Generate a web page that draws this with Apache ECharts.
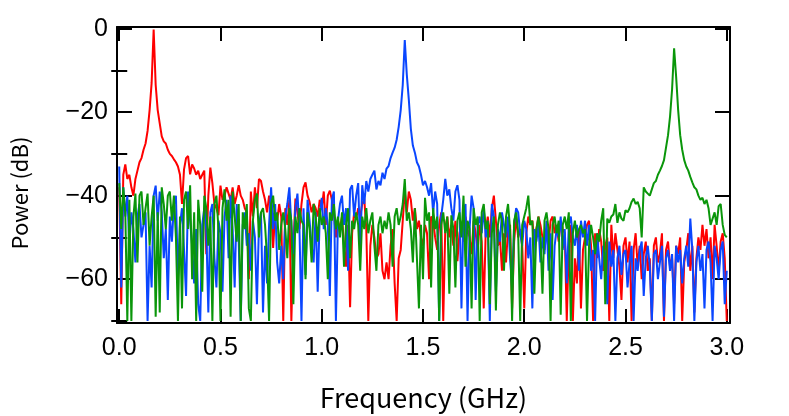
<!DOCTYPE html>
<html>
<head>
<meta charset="utf-8">
<script src="https://cdn.jsdelivr.net/npm/echarts@6/dist/echarts.min.js"></script>
<style>
html,body{margin:0;padding:0;background:#fff;}
#chart{width:789px;height:416px;}
</style>
</head>
<body>
<div id="chart"></div>
<script>
// Frequency grid (MHz)
const freqMHz = [
0,10,20,30,40,50,60,70,80,90,100,110,120,130,140,150,160,170,180,190,
200,210,220,230,240,250,260,270,280,290,300,310,320,330,340,350,360,370,380,390,
400,410,420,430,440,450,460,470,480,490,500,510,520,530,540,550,560,570,580,590,
600,610,620,630,640,650,660,670,680,690,700,710,720,730,740,750,760,770,780,790,
800,810,820,830,840,850,860,870,880,890,900,910,920,930,940,950,960,970,980,990,
1000,1010,1020,1030,1040,1050,1060,1070,1080,1090,1100,1110,1120,1130,1140,1150,1160,1170,1180,1190,
1200,1210,1220,1230,1240,1250,1260,1270,1280,1290,1300,1310,1320,1330,1340,1350,1360,1370,1380,1390,
1400,1410,1420,1430,1440,1450,1460,1470,1480,1490,1500,1510,1520,1530,1540,1550,1560,1570,1580,1590,
1600,1610,1620,1630,1640,1650,1660,1670,1680,1690,1700,1710,1720,1730,1740,1750,1760,1770,1780,1790,
1800,1810,1820,1830,1840,1850,1860,1870,1880,1890,1900,1910,1920,1930,1940,1950,1960,1970,1980,1990,
2000,2010,2020,2030,2040,2050,2060,2070,2080,2090,2100,2110,2120,2130,2140,2150,2160,2170,2180,2190,
2200,2210,2220,2230,2240,2250,2260,2270,2280,2290,2300,2310,2320,2330,2340,2350,2360,2370,2380,2390,
2400,2410,2420,2430,2440,2450,2460,2470,2480,2490,2500,2510,2520,2530,2540,2550,2560,2570,2580,2590,
2600,2610,2620,2630,2640,2650,2660,2670,2680,2690,2700,2710,2720,2730,2740,2750,2760,2770,2780,2790,
2800,2810,2820,2830,2840,2850,2860,2870,2880,2890,2900,2910,2920,2930,2940,2950,2960,2970,2980,2990,
3000];

// Power (dB) — red trace (peak near 0.17 GHz)
const redDB = [
-38,-66,-35,-32.5,-36,-35,-38,-40,-36,-34,
-32,-31,-29,-27.5,-24.5,-19.5,-13,-0.2,-13.5,-19.5,
-22.7,-25.8,-27,-27.5,-29,-30,-30.5,-31.3,-32,-33,
-35,-42,-33.7,-31,-30.5,-34.9,-32.5,-33.5,-35,-34,
-36,-35,-34,-54,-40,-33.3,-37,-42,-43,-44.7,
-37.6,-41,-40,-38,-39.5,-41,-38,-42,-40,-37.5,
-40,-41,-43,-44,-60,-39,-45,-38,-43,-36,
-36.5,-39,-41,-44,-40,-43,-52.5,-44,-46,-42,
-45,-70,-43,-47,-41,-70,-52,-40.7,-44,-48,
-42,-38,-36.8,-40,-41.5,-44,-42,-43,-45,-41,
-43,-39,-47,-40,-38.8,-41,-44,-50,-46,-48,
-45,-52,-57,-47,-66.7,-49,-44,-45.5,-43,-45,
-42,-40.7,-48,-70,-52,-47,-50,-55,-54,-49,
-58,-60,-56,-60,-52,-48,-61,-70,-55,-53,
-46,-39,-44,-39,-41,-46,-43,-48,-46,-50,
-52,-47,-49,-60,-45,-46,-50,-53,-47,-44,
-70,-48,-45,-50,-47,-52,-46,-55.7,-49,-47,
-51,-45,-48,-50,-54,-46,-49,-53,-47,-51,
-67,-48,-45,-50,-43,-40,-46,-52,-50,-58,
-49,-56,-48,-47,-67,-51,-45,-50,-48,-52,
-67,-49,-45,-47,-46,-51,-48,-45,-47,-50,
-53,-48,-52,-46,-45,-49,-47,-51,-46,-48,
-49,-70,-52,-47,-70,-55,-61,-48,-67,-53,
-50,-47,-46,-52,-70,-49,-55,-48,-51,-58,
-52,-50,-70,-47,-55,-49,-53,-57,-65,-52,
-50,-56,-51,-70,-53,-49,-57,-52,-60,-54,
-51,-58,-55,-70,-52,-50,-56,-54,-49,-70,
-53,-51,-57,-55,-66,-52,-54,-50,-70,-56,
-53,-49,-58,-52,-68,-55,-50,-53,-47,-52,
-48,-55,-50,-60,-47,-52,-58,-51,-49,-55,
-70];

// Power (dB) — blue trace (peak near 1.41 GHz)
const blueDB = [
-33,-62,-38,-45,-40,-52,-44,-48,-56,-45,
-42,-50,-47,-44,-70,-52,-62,-40,-37.6,-46,
-39,-44,-55,-48,-65,-45,-51,-42,-40,-60,
-47,-43,-53,-64,-39,-46,-52,-61,-48,-66,
-70,-47,-43,-48,-68,-44,-42,-55,-62,-46,
-49,-63,-45,-41,-55,-40,-48,-62,-42,-51,
-70,-47,-44,-52,-49,-58,-46,-50,-66,-47,
-44,-68,-52,-61,-47,-38,-48,-42,-56,-61,
-52,-60,-45,-42,-38,-47,-54,-43,-39.5,-48,
-70,-43,-59,-41,-46,-52,-56,-44,-63,-45,
-40.5,-48,-43,-47,-64,-41,-39,-70,-46,-42,
-40,-47,-43,-58,-38.5,-37.5,-45,-40,-37,-53,
-37.5,-42,-36.5,-39,-36,-35,-34,-38.5,-36.5,-37.5,
-34.5,-36,-33.5,-32.9,-31,-29.7,-28.5,-26.6,-23.5,-19.5,
-13.5,-2.7,-11,-17,-24,-28,-29.7,-32,-33,-35,
-37.5,-36.5,-38,-40,-37,-44,-39,-42,-70,-45,
-41,-36,-40,-38.5,-43,-46,-39,-37.5,-41,-67,
-44,-42,-70,-48,-40,-43,-65,-47,-45,-49,
-43,-50,-46,-70,-42,-45,-63,-48,-51,-44,
-47,-50,-45,-55,-62,-47,-43,-44,-49,-52,
-46,-48,-55,-50,-67,-48,-51,-47,-56,-50,
-54,-46,-58,-49,-65,-52,-48,-50,-45,-53,
-48,-61,-47,-45,-50,-52,-47,-58,-46,-50,
-46,-52,-47,-58,-53,-70,-49,-55,-60,-52,
-54,-66,-51,-57,-53,-70,-55,-52,-59,-54,
-53,-62,-56,-52,-70,-55,-58,-53,-51,-64,
-55,-52,-57,-70,-54,-53,-60,-56,-52,-69,
-55,-53,-58,-54,-70,-52,-56,-53,-61,-55,
-52,-57,-45.5,-53,-70,-56,-52,-58,-54,-67,
-53,-51,-56,-70,-52,-55,-60,-53,-51,-66,
-58];

// Power (dB) — green trace (peak near 2.74 GHz)
const greenDB = [
-37,-48,-38,-44,-70,-41,-70,-45,-39.5,-56,
-40,-39,-47,-43,-39.5,-52,-45,-40,-69,-44,
-68,-38,-42,-48,-40,-39,-46,-40,-50,-70,
-45,-67,-41,-39,-48,-37.5,-60,-44,-70,-41,
-47,-63,-40,-43,-52,-45,-70,-42,-40,-48,
-70,-43,-38.5,-46,-41,-69,-39,-45,-51,-42,
-70,-44,-48,-42,-67,-70,-46,-41,-39.5,-50,
-44,-43,-47,-55,-70,-42,-40,-46,-44,-53,
-47,-44,-48,-55,-43,-46,-66,-45,-49,-43,
-46,-47,-60,-44,-48,-56,-42,-45,-51,-43,
-47,-45,-49,-60,-44,-46,-42,-48,-45,-50,
-44,-57,-47,-43,-55,-46,-48,-44,-47,-58,
-45,-48,-43,-49,-46,-44,-52,-58,-47,-45,
-49,-46,-48,-44,-47,-57,-45,-43,-47,-45,
-42,-36,-46,-44,-48,-56,-43,-55,-67,-47,
-60,-40.5,-46,-44,-62,-43,-48,-45,-70,-47,
-44,-49,-45,-63.5,-44.7,-48,-62,-46,-44,-50,
-40,-57,-46,-48,-67,-43,-47,-45,-70,-44,
-42,-48,-46,-66,-49,-45,-67.5,-47,-44,-46,
-58,-45,-42,-48,-70,-46,-44,-49,-70,-47,
-45,-43,-40,-47,-46,-63.5,-48,-45,-50,-63.5,
-46,-44,-48,-70,-47,-45,-49,-46,-68.5,-47,
-45,-48,-44,-70,-49,-46,-50,-48,-47,-49,
-48,-70,-52,-47,-50,-54,-49,-51,-46,-43,
-66,-45.5,-46.5,-45,-44.5,-42,-46.5,-44,-45.5,-46,
-43.5,-44,-43,-41.5,-40.7,-42,-41.5,-43,-50,-38,
-39,-39.5,-40,-38.5,-37,-36.5,-35,-34,-32.9,-31.5,
-28.5,-25.5,-21,-14.5,-4.7,-11.5,-19.5,-25.5,-29,-31.5,
-33,-34,-35.5,-36.8,-38,-38.5,-40,-41,-40.5,-42,
-41,-43,-47,-45.5,-44,-47,-42.5,-42,-47,-49.4,
-50];

const xTickMHz = [0,500,1000,1500,2000,2500,3000];
const yMajorTicks = [-60,-40,-20,0];
const yMinorTicks = [-70,-50,-30,-10];

const chart = echarts.init(document.getElementById('chart'), null, {renderer:'canvas'});
const lineW = 2;
const tickFont = '"Liberation Sans", Arial, sans-serif';
const titleFont = '"Noto Sans CJK JP", sans-serif';

function pairs(vals){ return freqMHz.map((f,i)=>[f, vals[i]]); }

const xBase = {
  type:'value', min:-11, max:3016,
  splitLine:{show:false},
  axisLine:{show:true, onZero:false, lineStyle:{color:'#000', width:lineW}},
};
const yBase = {
  type:'value', min:-70.5, max:0.4,
  splitLine:{show:false},
};

const option = {
  animation:false,
  backgroundColor:'#fff',
  grid:{left:117, right:59, top:27, bottom:88, containLabel:false},
  xAxis:[
    Object.assign({}, xBase, {
      position:'bottom',
      axisTick:{show:true, inside:true, length:14, customValues:xTickMHz, lineStyle:{color:'#000', width:lineW}},
      axisLabel:{show:true, customValues:xTickMHz, margin:13, color:'#000', fontSize:25, fontFamily:tickFont,
        formatter:(v)=> (v/1000).toFixed(1)},
      name:'Frequency (GHz)', nameLocation:'middle', nameGap:61,
      nameTextStyle:{color:'#000', fontSize:27, fontFamily:titleFont}
    }),
    Object.assign({}, xBase, {
      position:'top',
      axisTick:{show:true, inside:true, length:14, customValues:xTickMHz, lineStyle:{color:'#000', width:lineW}},
      axisLabel:{show:false}
    })
  ],
  yAxis:[
    Object.assign({}, yBase, {
      position:'left',
      axisLine:{show:true, onZero:false, lineStyle:{color:'#000', width:lineW}},
      axisTick:{show:true, inside:true, length:15, customValues:yMajorTicks, lineStyle:{color:'#000', width:lineW}},
      axisLabel:{show:true, customValues:yMajorTicks, margin:9, color:'#000', fontSize:25, fontFamily:tickFont,
        formatter:(v)=> v<0 ? '\u2212'+Math.abs(v) : String(v)},
      name:'Power (dB)', nameLocation:'middle', nameGap:86, nameRotate:90,
      nameTextStyle:{color:'#000', fontSize:22, fontFamily:titleFont, padding:[0,36,0,0]}
    }),
    Object.assign({}, yBase, {
      position:'left',
      axisLine:{show:false},
      axisTick:{show:true, inside:true, length:8, customValues:yMinorTicks, lineStyle:{color:'#000', width:lineW}},
      axisLabel:{show:false}
    }),
    Object.assign({}, yBase, {
      position:'right',
      axisLine:{show:true, onZero:false, lineStyle:{color:'#000', width:lineW}},
      axisTick:{show:true, inside:true, length:15, customValues:yMajorTicks, lineStyle:{color:'#000', width:lineW}},
      axisLabel:{show:false}
    }),
    Object.assign({}, yBase, {
      position:'right',
      axisLine:{show:false},
      axisTick:{show:true, inside:true, length:8, customValues:yMinorTicks, lineStyle:{color:'#000', width:lineW}},
      axisLabel:{show:false}
    })
  ],
  series:[
    {name:'red', type:'line', xAxisIndex:0, yAxisIndex:0, data:pairs(redDB), showSymbol:false, symbol:'none',
      lineStyle:{color:'#ff0000', width:2}, clip:true, z:2},
    {name:'blue', type:'line', xAxisIndex:0, yAxisIndex:0, data:pairs(blueDB), showSymbol:false, symbol:'none',
      lineStyle:{color:'#0a46ff', width:2}, clip:true, z:3},
    {name:'green', type:'line', xAxisIndex:0, yAxisIndex:0, data:pairs(greenDB), showSymbol:false, symbol:'none',
      lineStyle:{color:'#0a960a', width:2}, clip:true, z:4}
  ]
};
chart.setOption(option);
</script>
</body>
</html>
